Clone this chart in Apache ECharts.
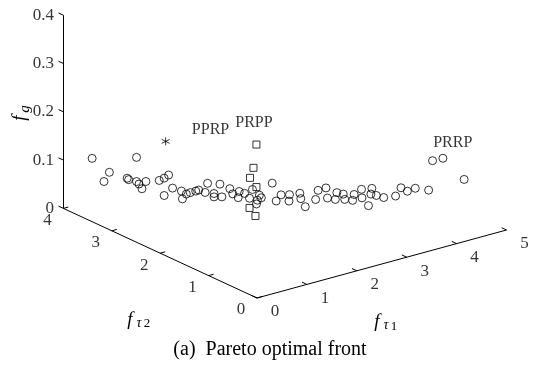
<!DOCTYPE html>
<html>
<head>
<meta charset="utf-8">
<script src="https://cdn.jsdelivr.net/npm/echarts@6/dist/echarts.min.js"></script>
<style>
  html, body { margin: 0; padding: 0; background: #fff; }
  #chart { width: 536px; height: 367px; }
</style>
</head>
<body>
<div id="chart"></div>
<script>
// pareto front points (f_tau1, f_tau2, f_g)
var circF1 = [0.12, 0.68, 0.34, 0.27, 0.56, 0.58, 0.68, 0.71, 0.75, 0.80, 0.97, 1.03, 1.09, 1.03, 1.14, 1.25, 1.26, 1.31, 1.36, 1.43,
  1.47, 1.55, 1.58, 1.66, 1.66, 1.74, 1.76, 1.86, 1.90, 1.98, 1.97, 2.05, 2.11, 2.15, 2.21, 2.20, 2.24, 2.26, 2.40, 2.45,
  2.51, 2.62, 2.61, 2.75, 2.76, 2.82, 2.95, 2.98, 3.08, 3.10, 3.20, 3.22, 3.30, 3.32, 3.42, 3.44, 3.53, 3.54, 3.62, 3.66,
  3.65, 3.72, 3.81, 3.96, 4.03, 4.11, 4.21, 4.38, 4.43, 4.56, 4.83];
var circF2 = [3.53, 3.19, 3.40, 3.44, 3.26, 3.25, 3.19, 3.17, 3.15, 3.12, 3.02, 2.98, 2.95, 2.98, 2.92, 2.85, 2.84, 2.81, 2.78, 2.74,
  2.72, 2.67, 2.65, 2.60, 2.60, 2.56, 2.54, 2.48, 2.46, 2.41, 2.42, 2.37, 2.33, 2.31, 2.27, 2.28, 2.26, 2.24, 2.16, 2.13,
  2.09, 2.03, 2.03, 1.95, 1.94, 1.91, 1.83, 1.81, 1.75, 1.74, 1.68, 1.67, 1.62, 1.61, 1.55, 1.54, 1.48, 1.48, 1.43, 1.40,
  1.41, 1.37, 1.31, 1.22, 1.18, 1.13, 1.07, 0.97, 0.94, 0.86, 0.70];
var circFg = [0.122, 0.124, 0.093, 0.074, 0.081, 0.078, 0.074, 0.069, 0.059, 0.074, 0.076, 0.081, 0.087, 0.045, 0.060, 0.054, 0.038, 0.048, 0.051, 0.054,
  0.056, 0.051, 0.070, 0.042, 0.049, 0.068, 0.042, 0.059, 0.048, 0.053, 0.040, 0.049, 0.039, 0.057, 0.035, 0.027, 0.045, 0.040, 0.070, 0.033,
  0.046, 0.046, 0.033, 0.049, 0.038, 0.021, 0.036, 0.055, 0.060, 0.039, 0.036, 0.050, 0.047, 0.036, 0.034, 0.046, 0.057, 0.039, 0.023, 0.059,
  0.047, 0.044, 0.040, 0.043, 0.060, 0.053, 0.059, 0.055, 0.116, 0.121, 0.077];

var sqF1 = [2.20, 2.16, 2.12, 2.20, 2.11, 2.19];
var sqF2 = [2.28, 2.30, 2.33, 2.28, 2.33, 2.29];
var sqFg = [0.150, 0.102, 0.081, 0.062, 0.019, 0.002];

var starF1 = [1.05];
var starF2 = [2.97];
var starFg = [0.157];

var annoText = ['PPRP', 'PRPP', 'PRRP'];
var annoF1 = [1.62, 2.17, 4.69];
var annoF2 = [2.63, 2.30, 0.79];
var annoFg = [0.180, 0.195, 0.152];

var f1Ticks = [0, 1, 2, 3, 4, 5];
var f2Ticks = [0, 1, 2, 3, 4];
var fgTicks = [0, 0.1, 0.2, 0.3, 0.4];
var fgTickLabels = ['0', '0.1', '0.2', '0.3', '0.4'];

// view: screen offset per unit of each axis
var ORIGIN = [257, 298];
var U1 = [49.9, -13.6];
var U2 = [-48.4, -22.4];
var U3 = -483;
function proj(a, b, c) {
  return [ORIGIN[0] + a * U1[0] + b * U2[0], ORIGIN[1] + a * U1[1] + b * U2[1] + c * U3];
}

var F1MAX = 5, F2MAX = 4, FGMAX = 0.4, TICK = 0.1;
var serif = '"Liberation Serif", "DejaVu Serif", serif';

var axisLines = [
  {coords: [proj(0, 0, 0), proj(F1MAX, 0, 0)]},
  {coords: [proj(0, 0, 0), proj(0, F2MAX, 0)]},
  {coords: [proj(0, F2MAX, 0), proj(0, F2MAX, FGMAX)]}
];
f1Ticks.forEach(function (v) { axisLines.push({coords: [proj(v, 0, 0), proj(v, TICK, 0)]}); });
f2Ticks.forEach(function (v) { axisLines.push({coords: [proj(0, v, 0), proj(TICK, v, 0)]}); });
fgTicks.forEach(function (v) { axisLines.push({coords: [proj(0, F2MAX, v), proj(0, F2MAX + TICK, v)]}); });

function pts(a, b, c) {
  return a.map(function (v, i) { return proj(v, b[i], c[i]); });
}

var labelStyle = {fontFamily: serif, fontSize: 17, color: '#000'};

var chart = echarts.init(document.getElementById('chart'));
chart.setOption({
  animation: false,
  grid: {left: 0, right: 0, top: 0, bottom: 0},
  xAxis: {type: 'value', min: 0, max: 536, show: false},
  yAxis: {type: 'value', min: 0, max: 367, inverse: true, show: false},
  series: [
    {
      type: 'lines',
      coordinateSystem: 'cartesian2d',
      silent: true,
      lineStyle: {color: '#000', width: 1, opacity: 1},
      data: axisLines
    },
    {
      type: 'scatter', symbolSize: 1, itemStyle: {color: 'transparent'},
      label: Object.assign({show: true, position: 'inside', offset: [18, 14], formatter: function (p) { return f1Ticks[p.dataIndex]; }}, labelStyle),
      data: f1Ticks.map(function (v) { return proj(v, 0, 0); })
    },
    {
      type: 'scatter', symbolSize: 1, itemStyle: {color: 'transparent'},
      label: Object.assign({show: true, position: 'inside', offset: [-16, 12], formatter: function (p) { return f2Ticks[p.dataIndex]; }}, labelStyle),
      data: f2Ticks.map(function (v) { return proj(0, v, 0); })
    },
    {
      type: 'scatter', symbolSize: 1, itemStyle: {color: 'transparent'},
      label: Object.assign({show: true, position: 'left', distance: 9, formatter: function (p) { return fgTickLabels[p.dataIndex]; }}, labelStyle),
      data: fgTicks.map(function (v) { return proj(0, F2MAX, v); })
    },
    {
      type: 'scatter',
      symbol: 'circle',
      symbolSize: 8,
      itemStyle: {color: 'transparent', borderColor: '#000', borderWidth: 1},
      data: pts(circF1, circF2, circFg)
    },
    {
      type: 'scatter',
      symbol: 'rect',
      symbolSize: 7,
      itemStyle: {color: 'transparent', borderColor: '#000', borderWidth: 1},
      data: pts(sqF1, sqF2, sqFg)
    },
    {
      type: 'scatter',
      symbol: 'path://M5,0L5,10M0.7,2.5L9.3,7.5M0.7,7.5L9.3,2.5',
      symbolSize: 8,
      itemStyle: {color: 'transparent', borderColor: '#000', borderWidth: 1},
      data: pts(starF1, starF2, starFg)
    },
    {
      type: 'scatter', symbolSize: 1, itemStyle: {color: 'transparent'},
      label: Object.assign({show: true, position: 'inside', formatter: function (p) { return annoText[p.dataIndex]; }}, labelStyle, {fontSize: 16}),
      data: pts(annoF1, annoF2, annoFg)
    }
  ],
  graphic: [
    {
      type: 'group', x: 130, y: 320,
      children: [
        {type: 'text', x: 0, y: 0, style: {text: 'f', font: 'italic 19px ' + serif, fill: '#000', textAlign: 'center', textVerticalAlign: 'middle'}},
        {type: 'text', x: 9, y: 3, style: {text: 'τ', font: 'italic 14px ' + serif, fill: '#000', textAlign: 'center', textVerticalAlign: 'middle'}},
        {type: 'text', x: 17, y: 4, style: {text: '2', font: '13px ' + serif, fill: '#000', textAlign: 'center', textVerticalAlign: 'middle'}}
      ]
    },
    {
      type: 'group', x: 377, y: 322,
      children: [
        {type: 'text', x: 0, y: 0, style: {text: 'f', font: 'italic 19px ' + serif, fill: '#000', textAlign: 'center', textVerticalAlign: 'middle'}},
        {type: 'text', x: 9, y: 3, style: {text: 'τ', font: 'italic 14px ' + serif, fill: '#000', textAlign: 'center', textVerticalAlign: 'middle'}},
        {type: 'text', x: 17, y: 5, style: {text: '1', font: '13px ' + serif, fill: '#000', textAlign: 'center', textVerticalAlign: 'middle'}}
      ]
    },
    {
      type: 'group', x: 20, y: 118, rotation: Math.PI / 2,
      children: [
        {type: 'text', x: 0, y: 0, style: {text: 'f', font: 'italic 19px ' + serif, fill: '#000', textAlign: 'center', textVerticalAlign: 'middle'}},
        {type: 'text', x: 9, y: 5, style: {text: 'g', font: 'italic 15px ' + serif, fill: '#000', textAlign: 'center', textVerticalAlign: 'middle'}}
      ]
    },
    {
      type: 'text', x: 270, y: 350,
      style: {text: '(a)  Pareto optimal front', font: '20px ' + serif, fill: '#000', textAlign: 'center', textVerticalAlign: 'middle'}
    }
  ]
});
</script>
</body>
</html>
